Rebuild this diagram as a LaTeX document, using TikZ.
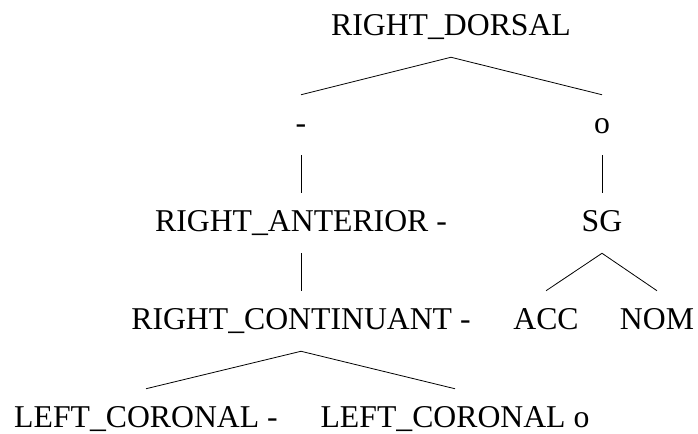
\documentclass[tikz,border=0pt]{standalone}
\usepackage{fontspec}
\setmainfont{Liberation Serif}
\usepackage{tikz}
\usetikzlibrary{positioning}
\tikzset{lbl/.style={anchor=base, inner sep=0pt, text height=28.5pt, text depth=16.5pt,
            font=\fontsize{23.8}{28}\selectfont},
         branch/.style={draw=black, line width=0.6pt}}
\begin{document}
\begin{tikzpicture}[x=0.75pt,y=-0.75pt]
            \useasboundingbox (0,0) rectangle (698,433);
            \node[lbl] (dorsal) at (451,35) {RIGHT\_DORSAL};
            \node[lbl] (minus) at (301,133) {-};
            \node[lbl] (zero) at (602,133) {o};
            \node[lbl] (anterior) at (301,231) {RIGHT\_ANTERIOR -};
            \node[lbl] (sg) at (602,231) {SG};
            \node[lbl] (continuant) at (301,329) {RIGHT\_CONTINUANT -};
            \node[lbl] (acc) at (546,329) {ACC};
            \node[lbl] (nom) at (657,329) {NOM};
            \node[lbl] (coronala) at (146,427) {LEFT\_CORONAL -};
            \node[lbl] (coronalb) at (455,427) {LEFT\_CORONAL o};
            \draw [branch] (minus.north) -- (dorsal.south) -- (zero.north);
            \draw [branch] (minus.south) -- (anterior.north);
            \draw [branch] (zero.south) -- (sg.north);
            \draw [branch] (anterior.south) -- (continuant.north);
            \draw [branch] (acc.north) -- (sg.south) -- (nom.north);
            \draw [branch] (coronala.north) -- (continuant.south) -- (coronalb.north);
        \end{tikzpicture}
\end{document}
